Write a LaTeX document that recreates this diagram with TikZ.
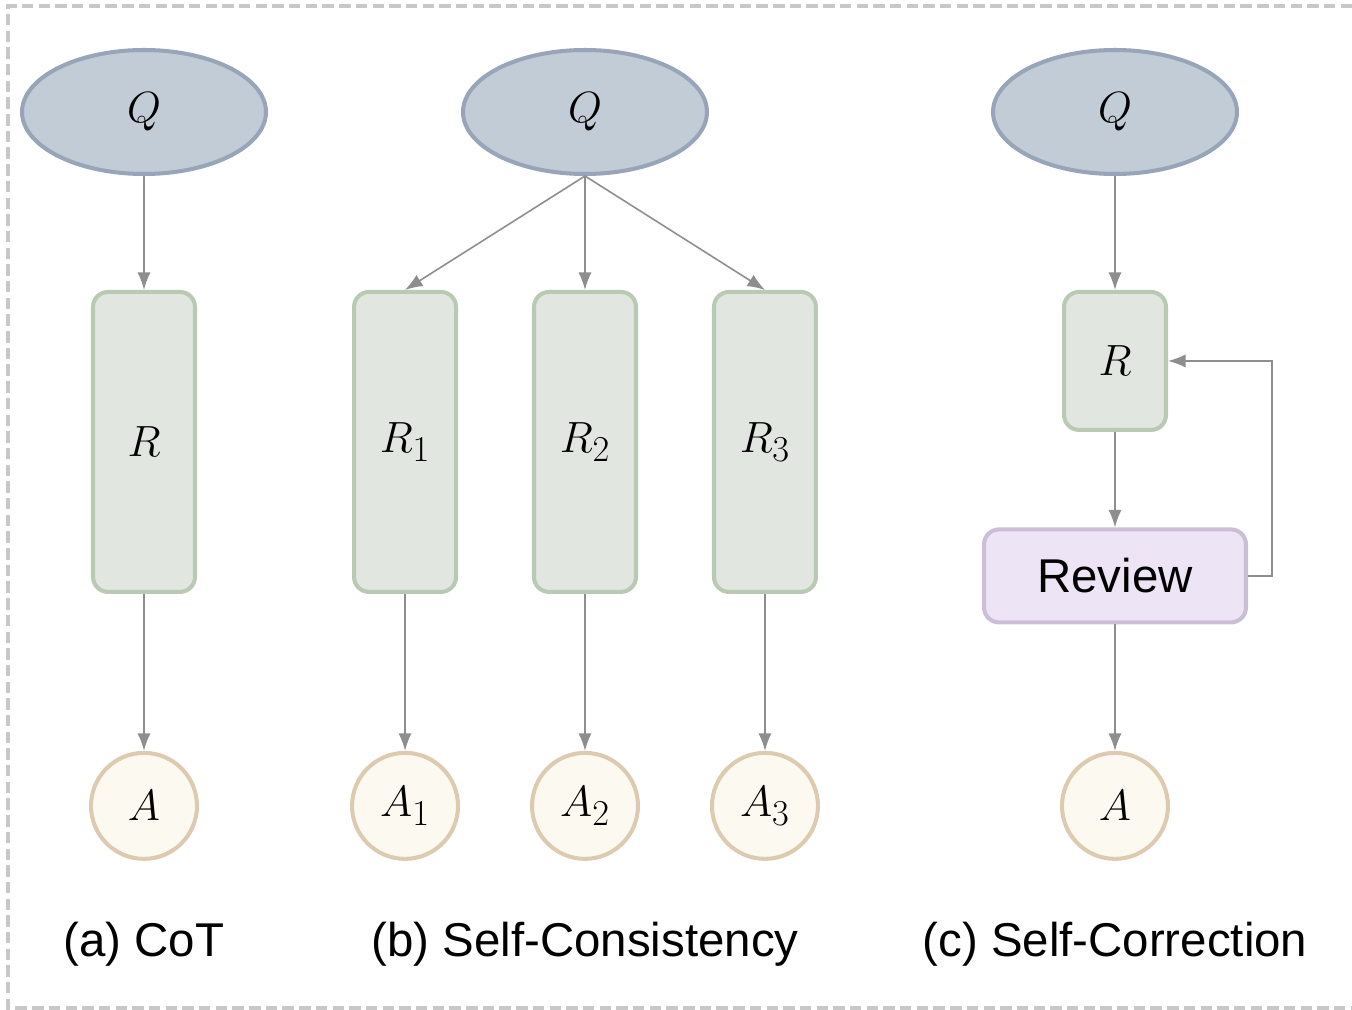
\documentclass[tikz,border=0pt]{standalone}
\usepackage{fontspec}
\setmainfont{Liberation Sans}
\usetikzlibrary{positioning,arrows.meta,shapes.geometric}

\definecolor{qfill}{HTML}{C1CCD6}
\definecolor{qline}{HTML}{98A4B8}
\definecolor{rfill}{HTML}{E1E6E0}
\definecolor{rline}{HTML}{B9C9B3}
\definecolor{afill}{HTML}{FCFAF0}
\definecolor{aline}{HTML}{DCCBB0}
\definecolor{vfill}{HTML}{EDE4F5}
\definecolor{vline}{HTML}{CBBFD6}
\definecolor{edgegray}{HTML}{8E8E8E}
\definecolor{framegray}{HTML}{C8C8C8}

\begin{document}
\begin{tikzpicture}[
	x=0.02cm, y=-0.02cm,
	on grid,
	mathfont/.style={font=\fontsize{32}{36}\selectfont},
	query/.style={
		ellipse,
		draw=qline,
		fill=qfill,
		line width=2.3pt,
		minimum width=4.88cm,
		minimum height=2.48cm,
		inner sep=0pt,
		mathfont
	},
	reason/.style={
		rectangle,
		rounded corners=0.3cm,
		draw=rline,
		fill=rfill,
		line width=2.3pt,
		minimum width=2.04cm,
		minimum height=6cm,
		inner sep=0pt,
		mathfont
	},
	answer/.style={
		circle,
		draw=aline,
		fill=afill,
		line width=2.3pt,
		minimum size=2.12cm,
		inner sep=0pt,
		mathfont
	},
	review/.style={
		rectangle,
		rounded corners=0.3cm,
		draw=vline,
		fill=vfill,
		line width=2.3pt,
		minimum width=5.24cm,
		minimum height=1.86cm,
		font=\fontsize{27}{32}\selectfont
	},
	caption/.style={font=\fontsize{27}{32}\selectfont},
	link/.style={-{Latex[length=10pt,width=7.5pt]}, draw=edgegray, line width=0.9pt}
	]

	\useasboundingbox (0,0) rectangle (1352,1010);
	\draw[framegray, line width=1.8pt, dash pattern=on 6.5pt off 3pt]
		(1352,6) -- (8,6) -- (8,1008) -- (1352,1008);

	% (a) CoT
	\node[query] (q_a) at (144,112) {$Q$};
	\node[reason, below=6.6cm of q_a] (r_a) {$R$};
	\node[answer, below=7.28cm of r_a] (a_a) {$A$};
	\node[caption, below=2.76cm of a_a] (cap_a) {(a) CoT};

	% (b) Self-Consistency
	\node[query] (q_b) at (585,112) {$Q$};
	\node[reason, below=6.6cm of q_b] (r_2) {$R_2$};
	\node[reason, left=3.6cm of r_2] (r_1) {$R_1$};
	\node[reason, right=3.6cm of r_2] (r_3) {$R_3$};
	\node[answer, below=7.28cm of r_1] (a_1) {$A_1$};
	\node[answer, below=7.28cm of r_2] (a_2) {$A_2$};
	\node[answer, below=7.28cm of r_3] (a_3) {$A_3$};
	\node[caption, below=2.76cm of a_2] (cap_b) {(b) Self-Consistency};

	% (c) Self-Correction
	\node[query] (q_c) at (1115,112) {$Q$};
	\node[reason, minimum height=2.76cm, below=4.98cm of q_c] (r_c) {$R$};
	\node[review, below=4.3cm of r_c] (rev) {Review};
	\node[answer, below=4.6cm of rev] (a_c) {$A$};
	\node[caption, below=2.76cm of a_c] (cap_c) {(c) Self-Correction};

	\path
		(q_a.south) edge[link] (r_a.north)
		(r_a.south) edge[link] (a_a.north)
		(q_b.south) edge[link] (r_1.north)
		(q_b.south) edge[link] (r_2.north)
		(q_b.south) edge[link] (r_3.north)
		(r_1.south) edge[link] (a_1.north)
		(r_2.south) edge[link] (a_2.north)
		(r_3.south) edge[link] (a_3.north)
		(q_c.south) edge[link] (r_c.north)
		(r_c.south) edge[link] (rev.north)
		(rev.south) edge[link] (a_c.north);
	\draw[link] (rev.east) -- ++(24,0) |- (r_c.east);
\end{tikzpicture}
\end{document}
